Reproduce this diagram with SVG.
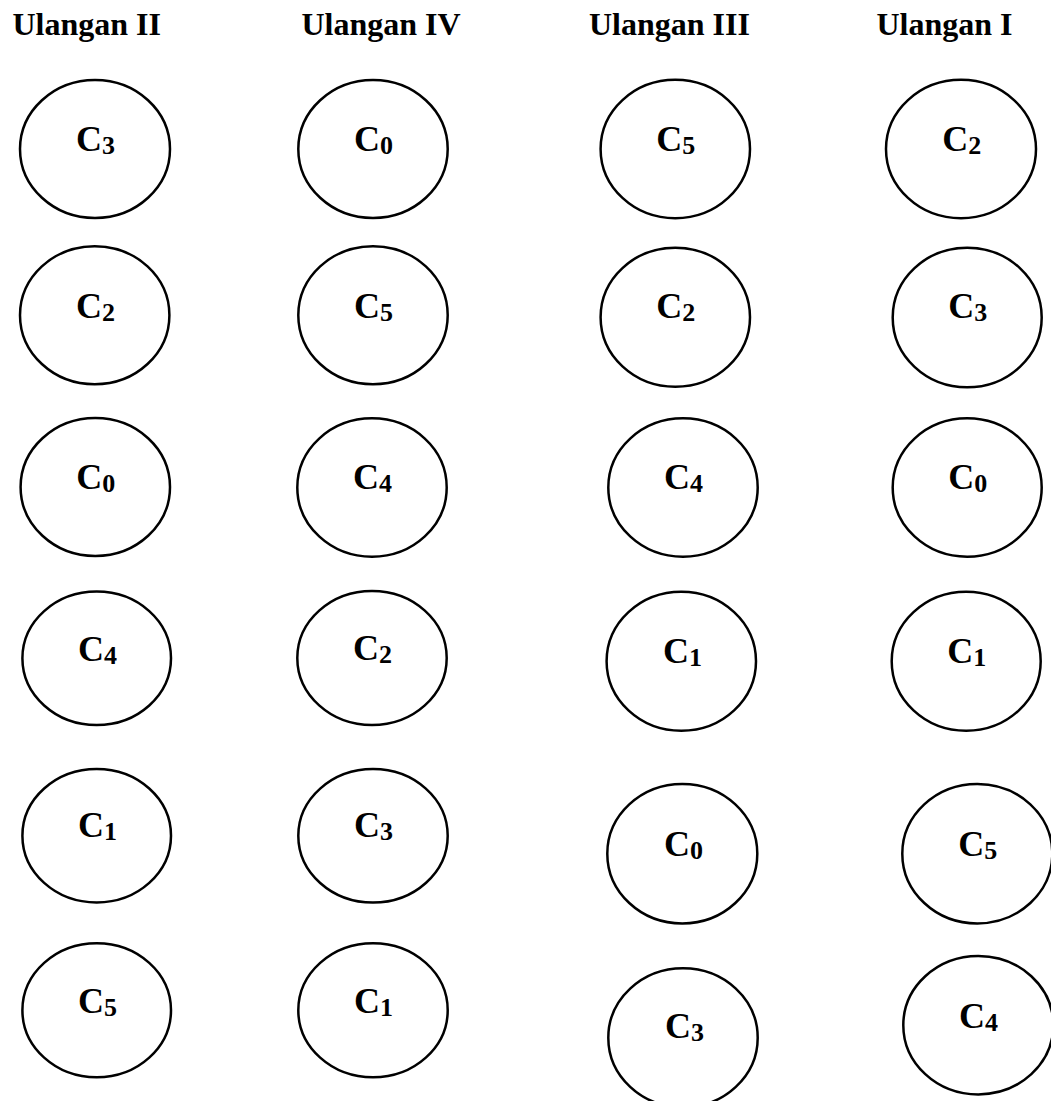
<svg xmlns="http://www.w3.org/2000/svg" width="1051" height="1101" viewBox="0 0 1051 1101">
<style>
.t{font-family:"Liberation Serif","Times New Roman",serif;font-weight:bold;font-size:32px;fill:#000}
.n{fill:#fff;stroke:#000;stroke-width:2.5}
.c{font-family:"Liberation Serif","Times New Roman",serif;font-weight:bold;font-size:36px;fill:#000}
.s{font-size:26px}
</style>
<rect width="1051" height="1101" fill="#fff"/>
<g id="titles">
<text class="t" x="12.5" y="35">Ulangan II</text>
<text class="t" x="301.5" y="35">Ulangan IV</text>
<text class="t" x="589" y="35">Ulangan III</text>
<text class="t" x="876.5" y="35">Ulangan I</text>
</g>
<!-- Ulangan II -->
<g id="u2r1"><ellipse class="n" cx="95" cy="149" rx="75" ry="69"/><text class="c" x="76" y="151">C<tspan class="s" dy="3">3</tspan></text></g>
<g id="u2r2"><ellipse class="n" cx="94.7" cy="315.2" rx="74.7" ry="69"/><text class="c" x="76" y="318">C<tspan class="s" dy="3">2</tspan></text></g>
<g id="u2r3"><ellipse class="n" cx="95.3" cy="487" rx="74.7" ry="69"/><text class="c" x="76.3" y="488.5">C<tspan class="s" dy="3">0</tspan></text></g>
<g id="u2r4"><ellipse class="n" cx="96.7" cy="658.3" rx="74.3" ry="66.7"/><text class="c" x="78" y="660.7">C<tspan class="s" dy="3">4</tspan></text></g>
<g id="u2r5"><ellipse class="n" cx="96.7" cy="835.7" rx="74.3" ry="66.7"/><text class="c" x="78" y="837">C<tspan class="s" dy="3">1</tspan></text></g>
<g id="u2r6"><ellipse class="n" cx="96.7" cy="1010.3" rx="74.3" ry="67"/><text class="c" x="78" y="1012.7">C<tspan class="s" dy="3">5</tspan></text></g>
<!-- Ulangan IV -->
<g id="u4r1"><ellipse class="n" cx="373" cy="149" rx="74.7" ry="69"/><text class="c" x="354" y="151">C<tspan class="s" dy="3">0</tspan></text></g>
<g id="u4r2"><ellipse class="n" cx="373" cy="315.2" rx="74.7" ry="69"/><text class="c" x="354" y="318">C<tspan class="s" dy="3">5</tspan></text></g>
<g id="u4r3"><ellipse class="n" cx="372" cy="487.5" rx="74.7" ry="69.2"/><text class="c" x="353" y="488.5">C<tspan class="s" dy="3">4</tspan></text></g>
<g id="u4r4"><ellipse class="n" cx="372" cy="658" rx="74.7" ry="67"/><text class="c" x="353" y="660">C<tspan class="s" dy="3">2</tspan></text></g>
<g id="u4r5"><ellipse class="n" cx="373" cy="835.8" rx="74.7" ry="66.8"/><text class="c" x="354" y="837">C<tspan class="s" dy="3">3</tspan></text></g>
<g id="u4r6"><ellipse class="n" cx="373" cy="1010.3" rx="74.7" ry="67"/><text class="c" x="354" y="1012.7">C<tspan class="s" dy="3">1</tspan></text></g>
<!-- Ulangan III -->
<g id="u3r1"><ellipse class="n" cx="675.3" cy="149" rx="74.7" ry="69.2"/><text class="c" x="656.3" y="150.7">C<tspan class="s" dy="3">5</tspan></text></g>
<g id="u3r2"><ellipse class="n" cx="675.3" cy="317.2" rx="74.7" ry="69.5"/><text class="c" x="656.3" y="318.3">C<tspan class="s" dy="3">2</tspan></text></g>
<g id="u3r3"><ellipse class="n" cx="683" cy="487.5" rx="74.7" ry="69.2"/><text class="c" x="664" y="489">C<tspan class="s" dy="3">4</tspan></text></g>
<g id="u3r4"><ellipse class="n" cx="681.3" cy="661.2" rx="74.7" ry="69.5"/><text class="c" x="663" y="663.3">C<tspan class="s" dy="3">1</tspan></text></g>
<g id="u3r5"><ellipse class="n" cx="682.3" cy="853.7" rx="75" ry="69.7"/><text class="c" x="664" y="855.7">C<tspan class="s" dy="3">0</tspan></text></g>
<g id="u3r6"><ellipse class="n" cx="683" cy="1037.7" rx="74.7" ry="69.5"/><text class="c" x="665" y="1038.3">C<tspan class="s" dy="3">3</tspan></text></g>
<!-- Ulangan I -->
<g id="u1r1"><ellipse class="n" cx="961" cy="149" rx="75" ry="69.2"/><text class="c" x="942.3" y="150.7">C<tspan class="s" dy="3">2</tspan></text></g>
<g id="u1r2"><ellipse class="n" cx="967.2" cy="317.5" rx="74.5" ry="69.8"/><text class="c" x="948.3" y="318.3">C<tspan class="s" dy="3">3</tspan></text></g>
<g id="u1r3"><ellipse class="n" cx="967.2" cy="487.5" rx="74.5" ry="69.2"/><text class="c" x="948.3" y="489">C<tspan class="s" dy="3">0</tspan></text></g>
<g id="u1r4"><ellipse class="n" cx="966.2" cy="661.2" rx="74.5" ry="69.5"/><text class="c" x="947.3" y="663.3">C<tspan class="s" dy="3">1</tspan></text></g>
<g id="u1r5"><ellipse class="n" cx="977.3" cy="853.7" rx="75" ry="69.7"/><text class="c" x="958.3" y="855.7">C<tspan class="s" dy="3">5</tspan></text></g>
<g id="u1r6"><ellipse class="n" cx="978.3" cy="1025.2" rx="75" ry="69.2"/><text class="c" x="959" y="1028.3">C<tspan class="s" dy="3">4</tspan></text></g>
</svg>
